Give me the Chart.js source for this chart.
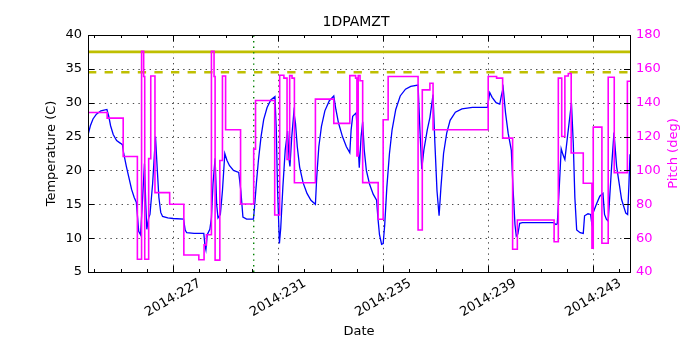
<!DOCTYPE html>
<html>
<head>
<meta charset="utf-8">
<script src="https://cdn.jsdelivr.net/npm/chart.js@4/dist/chart.umd.min.js"></script>
<style>
  html, body { margin: 0; padding: 0; background: #fff; }
  canvas { display: block; }
</style>
</head>
<body>
<canvas id="chart" width="700" height="350"></canvas>
<script>
// day of year (2014) and 1DPAMZT temperature (C)
const tempDays = [
  223.76, 223.85, 223.95, 224.08, 224.25, 224.48, 224.55, 224.62, 224.72, 224.85,
  225.00, 225.07, 225.12, 225.22, 225.32, 225.42, 225.52, 225.60, 225.65, 225.69,
  225.76, 225.82, 225.91, 225.96, 226.00, 226.07, 226.12, 226.22, 226.33, 226.40,
  226.46, 226.53, 226.60, 226.80, 227.00, 227.40, 227.46, 227.52, 227.80, 228.17,
  228.21, 228.25, 228.30, 228.40, 228.46, 228.52, 228.60, 228.66, 228.71, 228.80,
  228.88, 228.97, 229.05, 229.15, 229.30, 229.50, 229.58, 229.66, 229.80, 230.06,
  230.10, 230.17, 230.25, 230.35, 230.45, 230.58, 230.72, 230.88, 230.93, 230.98,
  231.05, 231.10, 231.18, 231.27, 231.36, 231.42, 231.45, 231.52, 231.60, 231.66,
  231.73, 231.82, 231.95, 232.10, 232.25, 232.42, 232.47, 232.55, 232.65, 232.78,
  232.95, 233.12, 233.20, 233.30, 233.45, 233.60, 233.73, 233.78, 233.84, 233.97,
  234.03, 234.09, 234.16, 234.22, 234.28, 234.36, 234.48, 234.62, 234.75, 234.80,
  234.86, 234.94, 235.00, 235.06, 235.14, 235.24, 235.34, 235.48, 235.65, 235.85,
  236.05, 236.33, 236.40, 236.47, 236.55, 236.68, 236.78, 236.90, 236.97, 237.05,
  237.13, 237.20, 237.30, 237.42, 237.55, 237.75, 238.00, 238.40, 238.97, 239.06,
  239.15, 239.30, 239.44, 239.50, 239.57, 239.66, 239.76, 239.88, 239.95, 240.02,
  240.07, 240.13, 240.20, 240.30, 241.48, 241.58, 241.63, 241.70, 241.78, 241.85,
  241.92, 242.02, 242.17, 242.24, 242.30, 242.37, 242.50, 242.62, 242.67, 242.80,
  242.90, 242.94, 243.00, 243.12, 243.25, 243.37, 243.43, 243.50, 243.57, 243.70,
  243.79, 243.89, 244.08, 244.24, 244.31, 244.36, 244.40
];
const tempValues = [
  25.2, 26.6, 27.6, 28.3, 28.8, 29.0, 28.0, 26.6, 25.3, 24.4,
  24.0, 23.8, 22.5, 20.6, 18.9, 17.2, 16.0, 15.3, 13.0, 11.0,
  10.5, 14.5, 21.0, 15.0, 11.3, 13.0, 13.5, 18.0, 25.0, 20.0,
  16.0, 13.8, 13.2, 13.0, 12.9, 12.8, 11.2, 10.8, 10.7, 10.7,
  9.0, 8.3, 10.5, 11.3, 13.0, 18.0, 21.8, 15.0, 13.0, 13.5,
  17.0, 22.5, 21.5, 20.7, 20.0, 19.7, 17.0, 13.1, 12.8, 12.8,
  14.5, 18.0, 21.5, 25.0, 27.5, 29.3, 30.4, 30.9, 26.0, 17.0,
  9.2, 11.5, 17.5, 23.0, 25.8, 21.5, 20.6, 25.0, 28.6, 27.0,
  23.5, 20.5, 18.2, 16.6, 15.6, 15.0, 19.0, 23.5, 26.5, 28.8,
  30.3, 31.0, 29.0, 27.0, 25.0, 23.5, 22.6, 26.0, 28.0, 28.5,
  25.0, 20.4, 25.0, 27.2, 23.0, 20.0, 18.0, 16.5, 15.6, 13.0,
  10.5, 9.1, 9.2, 12.0, 17.5, 22.5, 26.0, 29.0, 31.0, 32.0,
  32.4, 32.6, 26.0, 20.2, 23.0, 26.0, 27.8, 31.2, 24.0, 17.0,
  13.3, 17.5, 22.5, 25.5, 27.4, 28.6, 29.1, 29.3, 29.3, 31.5,
  30.8, 30.0, 29.8, 31.0, 32.2, 28.5, 25.5, 23.0, 17.0, 12.0,
  10.3, 10.6, 12.2, 12.3, 12.3, 12.0, 12.1, 17.0, 23.2, 22.3,
  21.6, 25.0, 30.0, 24.0, 16.0, 11.2, 10.8, 10.7, 13.3, 13.6,
  13.5, 12.3, 13.8, 15.0, 16.2, 16.6, 13.5, 12.8, 12.5, 20.6,
  25.6, 20.6, 15.7, 13.7, 13.5, 18.0, 22.4
];

// pitch (deg), each value holds until the next day in the list
const pitchDays = [
  223.76, 224.49, 225.10, 225.64, 225.80, 225.88, 225.92, 226.07, 226.15, 226.31,
  226.87, 227.41, 227.98, 228.18, 228.27, 228.46, 228.56, 228.60, 228.78, 228.88,
  229.00, 229.57, 230.07, 230.14, 230.87, 231.06, 231.22, 231.34, 231.44, 231.53,
  231.62, 232.42, 233.12, 233.73, 233.95, 234.00, 234.05, 234.12, 234.22, 234.81,
  235.00, 235.19, 236.33, 236.49, 236.78, 236.90, 239.00, 239.32, 239.55, 239.93,
  240.11, 241.51, 241.67, 241.80, 241.92, 242.05, 242.16, 242.62, 242.95, 243.00,
  243.33, 243.57, 243.80, 244.30, 244.41
];
const pitchValues = [
  134.2, 130.9, 108.2, 47.5, 170.3, 155.5, 47.5, 107.0, 155.8, 86.9,
  80.0, 50.0, 47.2, 56.0, 62.0, 170.3, 155.5, 47.0, 105.9, 155.8,
  124.0, 80.2, 112.6, 141.3, 73.7, 156.2, 154.5, 106.5, 156.0, 154.5,
  92.7, 142.1, 127.8, 156.0, 154.5, 108.5, 156.0, 153.0, 92.8, 71.2,
  129.9, 155.5, 64.8, 147.6, 151.5, 124.0, 155.5, 154.5, 119.1, 53.4,
  70.7, 57.9, 154.5, 120.0, 155.8, 157.3, 110.3, 92.4, 54.0, 125.6,
  57.0, 155.0, 98.7, 152.7, 152.7
];

const dayMin = 223.76;
const dayMax = 244.40;
const dateTicks = [227, 231, 235, 239, 243];
const minorDays = [224, 225, 226, 228, 229, 230, 232, 233, 234, 236, 237, 238, 240, 241, 242, 244];
const tempTicks = [5, 10, 15, 20, 25, 30, 35, 40];
const pitchTicks = [40, 60, 80, 100, 120, 140, 160, 180];
const limitSolid = 37.5;
const limitDashed = 34.5;
const markerDay = 230.07;

const FONT = 'DejaVu Sans';
Chart.defaults.font.family = FONT;
Chart.defaults.font.size = 13;
Chart.defaults.color = '#000';

const frame = {
  id: 'frame',
  beforeDatasetsDraw(chart) {
    const {ctx, chartArea: a, scales} = chart;
    ctx.save();
    ctx.strokeStyle = '#000';
    ctx.lineWidth = 0.7;
    ctx.setLineDash([1.4, 4.2]);
    ctx.beginPath();
    dateTicks.forEach(d => {
      const p = Math.round(scales.x.getPixelForValue(d)) + 0.5;
      ctx.moveTo(p, a.top); ctx.lineTo(p, a.bottom);
    });
    tempTicks.slice(1, -1).forEach(t => {
      const p = Math.round(scales.y.getPixelForValue(t)) + 0.5;
      ctx.moveTo(a.left, p); ctx.lineTo(a.right, p);
    });
    ctx.stroke();
    ctx.restore();
  },
  afterDraw(chart) {
    const {ctx, chartArea: a, scales} = chart;
    ctx.save();
    ctx.strokeStyle = '#000';
    ctx.lineWidth = 1;
    ctx.strokeRect(Math.round(a.left) + 0.5, Math.round(a.top) + 0.5,
      Math.round(a.right - a.left), Math.round(a.bottom - a.top));
    ctx.beginPath();
    const xt = (d, len) => {
      const p = Math.round(scales.x.getPixelForValue(d)) + 0.5;
      ctx.moveTo(p, a.bottom); ctx.lineTo(p, a.bottom - len);
      ctx.moveTo(p, a.top); ctx.lineTo(p, a.top + len);
    };
    dateTicks.forEach(d => xt(d, 6));
    minorDays.forEach(d => xt(d, 3));
    tempTicks.forEach(t => {
      const p = Math.round(scales.y.getPixelForValue(t)) + 0.5;
      ctx.moveTo(a.left, p); ctx.lineTo(a.left + 6, p);
    });
    pitchTicks.forEach(t => {
      const p = Math.round(scales.y2.getPixelForValue(t)) + 0.5;
      ctx.moveTo(a.right, p); ctx.lineTo(a.right - 6, p);
    });
    ctx.stroke();

    // rotated date labels, centred on their ticks
    ctx.font = '13px "' + FONT + '"';
    ctx.fillStyle = '#000';
    ctx.textAlign = 'center';
    ctx.textBaseline = 'middle';
    dateTicks.forEach(d => {
      ctx.save();
      ctx.translate(scales.x.getPixelForValue(d), a.bottom + 26);
      ctx.rotate(-Math.PI / 6);
      ctx.fillText('2014:' + d, 0, 0);
      ctx.restore();
    });

    ctx.font = '14px "' + FONT + '"';
    ctx.fillText('1DPAMZT', 356, 22);

    ctx.save();
    ctx.font = '13px "' + FONT + '"';
    ctx.fillStyle = '#ff00ff';
    ctx.translate(674, (a.top + a.bottom) / 2);
    ctx.rotate(-Math.PI / 2);
    ctx.fillText('Pitch (deg)', 0, 0);
    ctx.restore();
    ctx.restore();
  }
};

const pts = (xs, ys) => xs.map((x, i) => ({x: x, y: ys[i]}));

new Chart(document.getElementById('chart'), {
  type: 'line',
  data: {
    datasets: [
      {
        label: 'Pitch',
        data: pts(pitchDays, pitchValues),
        yAxisID: 'y2',
        stepped: 'before',
        borderColor: '#ff00ff',
        borderWidth: 1.6,
        pointRadius: 0
      },
      {
        label: 'marker',
        data: [{x: markerDay, y: 5}, {x: markerDay, y: 40}],
        yAxisID: 'y',
        borderColor: '#008000',
        borderWidth: 1.4,
        borderDash: [1.4, 4.2],
        pointRadius: 0
      },
      {
        label: 'limit',
        data: [{x: dayMin, y: limitSolid}, {x: dayMax, y: limitSolid}],
        yAxisID: 'y',
        borderColor: '#bfbf00',
        borderWidth: 2.7,
        pointRadius: 0
      },
      {
        label: 'limit dashed',
        data: [{x: dayMin, y: limitDashed}, {x: dayMax, y: limitDashed}],
        yAxisID: 'y',
        borderColor: '#bfbf00',
        borderWidth: 2.7,
        borderDash: [8.3, 8.3],
        pointRadius: 0
      },
      {
        label: '1DPAMZT',
        data: pts(tempDays, tempValues),
        yAxisID: 'y',
        borderColor: '#0000ff',
        borderWidth: 1.3,
        pointRadius: 0,
        tension: 0
      }
    ]
  },
  options: {
    responsive: false,
    animation: false,
    devicePixelRatio: 1,
    layout: {padding: {top: 35, left: 0, right: 0, bottom: 0}},
    plugins: {legend: {display: false}, title: {display: false}, tooltip: {enabled: false}},
    scales: {
      x: {
        type: 'linear',
        min: dayMin,
        max: dayMax,
        grid: {display: false, drawTicks: false},
        border: {display: false},
        ticks: {display: false},
        title: {display: true, text: 'Date', font: {size: 13}, padding: {top: 0, bottom: 11}},
        afterFit: s => { s.height = 78; }
      },
      y: {
        position: 'left',
        min: 5,
        max: 40,
        grid: {display: false, drawTicks: false},
        border: {display: false},
        ticks: {stepSize: 5, padding: 6, font: {size: 13}},
        title: {display: true, text: 'Temperature (C)', font: {size: 13}, padding: {top: 44, bottom: 0}},
        afterFit: s => { s.width = 88; }
      },
      y2: {
        position: 'right',
        min: 40,
        max: 180,
        grid: {display: false, drawTicks: false},
        border: {display: false},
        ticks: {stepSize: 20, padding: 6, color: '#ff00ff', font: {size: 13}},
        afterFit: s => { s.width = 70; }
      }
    }
  },
  plugins: [frame]
});
</script>
</body>
</html>
